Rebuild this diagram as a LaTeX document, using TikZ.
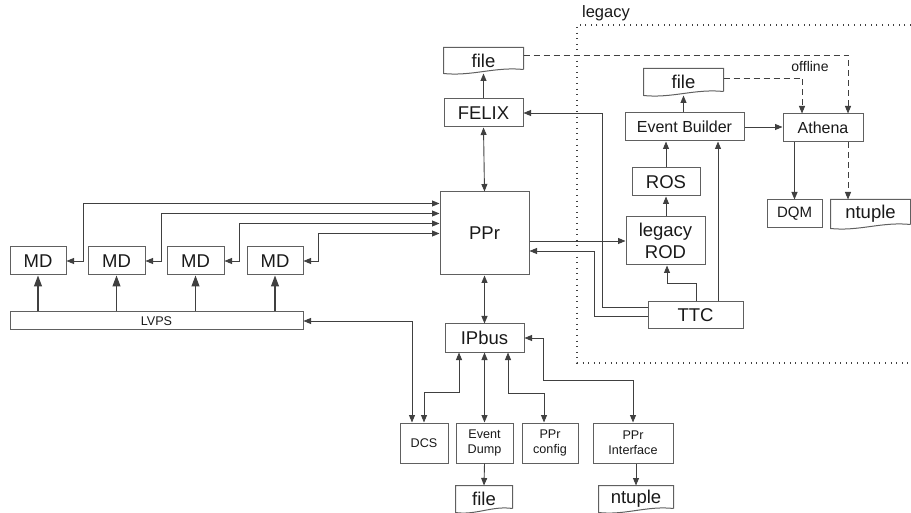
\documentclass[tikz,border=0pt]{standalone}
\usepackage{fontspec}
\setmainfont{Liberation Sans}
\usetikzlibrary{arrows.meta,calc}
\definecolor{lg}{HTML}{404040}
\definecolor{bg}{HTML}{606060}
\newcommand{\docoutline}[1]{%
  \draw[draw=bg, line width=1pt] ([yshift=4pt]#1.south east) -- (#1.north east) -- (#1.north west) -- (#1.south west)
   .. controls ($(#1.south west)!0.35!(#1.south east)+(0,3)$) and ($(#1.south west)!0.65!(#1.south east)+(0,-7)$) .. ([yshift=4pt]#1.south east);}
\begin{document}
\begin{tikzpicture}[x=1pt,y=-1pt,
  nbox/.style={draw=bg, line width=1pt, inner sep=0pt, align=center, text=black!90, font=\fontsize{18.5}{22.5}\selectfont},
  ndoc/.style={nbox, draw=none},
  fmid/.style={font=\fontsize{16}{18}\selectfont},
  fdqm/.style={font=\fontsize{15}{17}\selectfont},
  fsmall/.style={font=\fontsize{12.6}{15}\selectfont},
  tip/.tip={Triangle[length=7.5pt,width=6pt]},
  bigtip/.tip={Triangle[length=11pt,width=8pt]},
  conn/.style={draw=lg, line width=0.9pt, -tip},
  dconn/.style={draw=lg, line width=0.9pt, tip-tip},
  dashconn/.style={conn, dash pattern=on 6pt off 4pt},
  lvconn/.style={draw=lg, line width=1.1pt, -bigtip},
  dotbox/.style={draw=lg, line width=1.2pt, dash pattern=on 1pt off 4.6pt}
]
\useasboundingbox (0,0) rectangle (911,513);

% legacy region
\draw[dotbox] (911,25) -- (577,25) -- (577,363) -- (911,363);
\node[text=black!90, font=\fontsize{16.5}{18}\selectfont, inner sep=0pt] (leglab) at (606,13) {legacy};
\node[text=black!90, font=\fontsize{14}{16}\selectfont, inner sep=0pt] (offlab) at (810,66) {offline};

% left side
\node[nbox, minimum width=56pt, minimum height=28pt] (md1) at (38,261) {MD};
\node[nbox, minimum width=57pt, minimum height=28pt] (md2) at (116.5,261) {MD};
\node[nbox, minimum width=57pt, minimum height=28pt] (md3) at (195.5,261) {MD};
\node[nbox, minimum width=56pt, minimum height=28pt] (md4) at (275,261) {MD};
\node[nbox, fsmall, minimum width=293pt, minimum height=18pt] (lvps) at (156.5,321) {LVPS};

% centre column
\node[nbox, minimum width=89pt, minimum height=83pt] (ppr) at (484.5,233.5) {PPr};
\node[nbox, minimum width=79pt, minimum height=28pt] (felix) at (483.5,113) {FELIX};
\node[ndoc, minimum width=79pt, minimum height=25pt] (file1) at (483.5,60.5) {file};
\node[nbox, minimum width=79pt, minimum height=28pt] (ipbus) at (484.5,338) {IPbus};

% bottom row
\node[nbox, fsmall, minimum width=48pt, minimum height=40pt] (dcs) at (424,443) {DCS};
\node[nbox, fsmall, minimum width=57pt, minimum height=40pt] (edump) at (484.5,443) {Event\\Dump};
\node[nbox, fsmall, minimum width=56pt, minimum height=40pt] (pprconf) at (550,443) {PPr\\config};
\node[nbox, fsmall, minimum width=80pt, minimum height=40pt] (pprint) at (633,443) {PPr\\Interface};
\node[ndoc, minimum width=56pt, minimum height=26pt] (file2) at (484,499) {file};
\node[ndoc, minimum width=74pt, minimum height=26pt] (ntuple2) at (636,499) {ntuple};

% legacy column
\node[ndoc, minimum width=79pt, minimum height=26pt] (file3) at (683.5,82) {file};
\node[nbox, fmid, minimum width=119pt, minimum height=28pt] (eb) at (684.5,127) {Event Builder};
\node[nbox, fmid, minimum width=80pt, minimum height=28pt] (athena) at (823,128) {Athena};
\node[nbox, fdqm, minimum width=55pt, minimum height=28pt] (dqm) at (794.5,214) {DQM};
\node[ndoc, minimum width=79pt, minimum height=28pt] (ntuple1) at (870.5,214) {ntuple};
\node[nbox, minimum width=68pt, minimum height=28pt] (ros) at (666,182) {ROS};
\node[nbox, minimum width=79pt, minimum height=48pt] (rod) at (665.5,241) {legacy\\ROD};
\node[nbox, minimum width=95pt, minimum height=27pt] (ttc) at (695.5,315.5) {TTC};

\docoutline{file1}
\docoutline{file2}
\docoutline{file3}
\docoutline{ntuple1}
\docoutline{ntuple2}

% MD <-> PPr
\draw[dconn] (md1.east) -- ++(17,0) |- ([yshift=30pt]ppr.west);
\draw[dconn] (md2.east) -- ++(16,0) |- ([yshift=20pt]ppr.west);
\draw[dconn] (md3.east) -- ++(15,0) |- ([yshift=10pt]ppr.west);
\draw[dconn] (md4.east) -- ++(15,0) |- ([yshift=0pt]ppr.west);

% LVPS -> MD
\draw[lvconn] (lvps.north -| md1) -- (md1.south);
\draw[lvconn] (lvps.north -| md2) -- (md2.south);
\draw[lvconn] (lvps.north -| md3) -- (md3.south);
\draw[lvconn] (lvps.north -| md4) -- (md4.south);

% LVPS <-> DCS
\draw[dconn] (lvps.east) -| ([xshift=-12pt]dcs.north);

% PPr connections
\draw[dconn] (ppr.north) -- (felix.south);
\draw[dconn] (ppr.south) -- (ipbus.north);
\draw[conn] (felix.north) -- (file1.south);

% IPbus fan-out
\draw[dconn] ([xshift=-25.5pt]ipbus.south) -- ++(0,40) -| (dcs.north);
\draw[dconn] (ipbus.south) -- (edump.north);
\draw[dconn] ([xshift=23.5pt]ipbus.south) -- ++(0,41) -| ([xshift=-6pt]pprconf.north);
\draw[dconn] (ipbus.east) -- ++(19,0) -- ++(0,42) -| (pprint.north);
\draw[conn] (edump.south) -- (file2.north);
\draw[conn] (pprint.south -| ntuple2) -- (ntuple2.north);

% TTC links
\draw[conn] ([yshift=8.5pt]ttc.west) -- ++(-45,0) |- (felix.east);
\draw[conn] ([yshift=-0.5pt]ttc.west) -- ++(-53,0) |- ([yshift=-17.5pt]ppr.east);
\draw[conn] (ppr.east |- rod.west) -- (rod.west);
\draw[conn] ([xshift=0.5pt]ttc.north) -- ++(0,-18) -| ([xshift=1.5pt]rod.south);
\draw[conn] ([xshift=22.5pt]ttc.north) -- ([xshift=22.5pt]ttc.north |- eb.south);

% legacy chain
\draw[conn] (rod.north -| ros) -- (ros.south);
\draw[conn] (ros.north) -- (eb.south -| ros);
\draw[conn] (eb.north -| file3) -- (file3.south);
\draw[conn] (eb.east) -- (athena.west |- eb.east);
\draw[conn] (athena.south -| dqm) -- (dqm.north);
\draw[dashconn] ([xshift=25pt]athena.south) -- ([xshift=25pt]athena.south |- ntuple1.north);

% offline dashed
\draw[dashconn] ([yshift=5.5pt]file1.east) -| ([xshift=25pt]athena.north);
\draw[dashconn] ([yshift=4pt]file3.east) -| ([xshift=-21pt]athena.north);
\end{tikzpicture}
\end{document}
